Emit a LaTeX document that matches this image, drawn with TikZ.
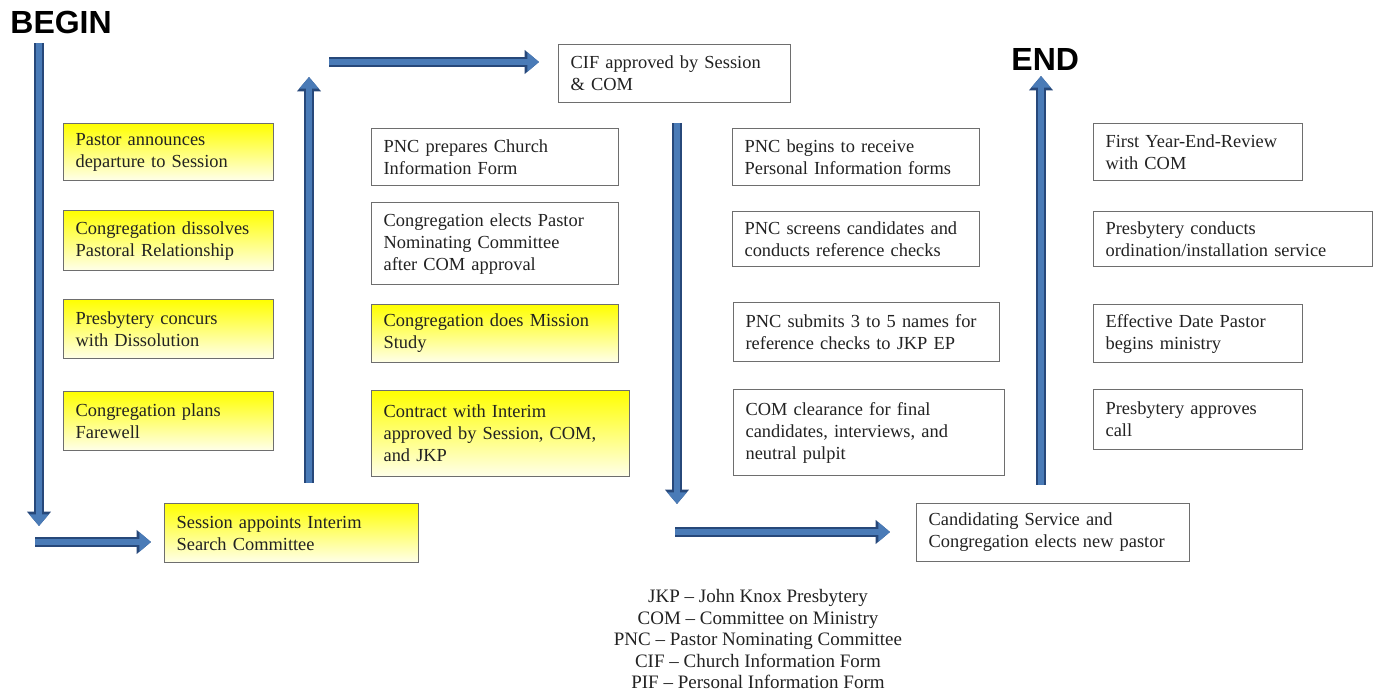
\documentclass[tikz,border=0pt]{standalone}
\usepackage{fontspec}
\setmainfont{Liberation Serif}
\newfontfamily\headfont{Liberation Sans}
\usepackage{tikz}
\usetikzlibrary{arrows.meta}

\definecolor{flowblue}{HTML}{4A7BB7}
\definecolor{flowedge}{HTML}{27487A}
\definecolor{boxgray}{HTML}{6E6E6E}
\definecolor{inkgray}{HTML}{222222}

\tikzset{
  note/.style={draw=boxgray, line width=0.6pt, anchor=north west, align=left,
    inner xsep=6pt, inner ysep=3pt, text=inkgray,
    font=\fontsize{9.2}{11}\selectfont},
  ynote/.style={note, top color=yellow, bottom color=yellow!8},
  wnote/.style={note, fill=white},
  flow/.style={line width=3.2pt, draw=flowblue, -{Triangle[width=9.4pt,length=5.8pt]},
    preaction={draw=flowedge, line width=4.8pt, -{Triangle[width=11.6pt,length=7.2pt]}}},
  headline/.style={anchor=north west, inner sep=0pt, font=\headfont\bfseries\fontsize{16}{18}\selectfont}
}

\begin{document}
\begin{tikzpicture}
  \useasboundingbox (0pt, 0pt) rectangle (688.5pt, -347pt);
  % start and end labels
  \draw (5.0pt, -5.5pt)node[headline](begin){BEGIN};
  \draw (505.5pt, -24.0pt)node[headline](end){END};
  % first column
  \draw (31.5pt, -61.5pt)node[ynote, text width=93pt, minimum height=28.5pt](1){Pastor announces\\departure to Session};
  \draw (31.5pt, -105.0pt)node[ynote, text width=93pt, minimum height=30pt](2){Congregation dissolves\\Pastoral Relationship};
  \draw (31.5pt, -149.5pt)node[ynote, text width=93pt, minimum height=29.5pt](3){Presbytery concurs\\with Dissolution};
  \draw (31.5pt, -195.5pt)node[ynote, text width=93pt, minimum height=29.5pt](4){Congregation plans\\Farewell};
  \draw (82.0pt, -251.5pt)node[ynote, text width=115pt, minimum height=29.5pt](5){Session appoints Interim\\Search Committee};
  % second column
  \draw (185.5pt, -64.0pt)node[wnote, text width=111.5pt, minimum height=28.5pt](6){PNC prepares Church\\Information Form};
  \draw (185.5pt, -101.0pt)node[wnote, text width=111.5pt, minimum height=41pt](7){Congregation elects Pastor\\Nominating Committee\\after COM approval};
  \draw (185.5pt, -152.0pt)node[ynote, text width=111.5pt, minimum height=29pt](8){Congregation does Mission\\Study};
  \draw (185.5pt, -195.0pt)node[ynote, text width=117pt, minimum height=43pt](9){Contract with Interim\\approved by Session, COM,\\and JKP};
  \draw (279.0pt, -22.0pt)node[wnote, text width=104pt, minimum height=29pt](10){CIF approved by Session\\\& COM};
  % third column
  \draw (366.0pt, -64.0pt)node[wnote, text width=111.5pt, minimum height=28.5pt](11){PNC begins to receive\\Personal Information forms};
  \draw (366.0pt, -105.5pt)node[wnote, text width=111.5pt, minimum height=27.5pt](12){PNC screens candidates and\\conducts reference checks};
  \draw (366.5pt, -151.0pt)node[wnote, text width=121pt, minimum height=29.5pt](13){PNC submits 3 to 5 names for\\reference checks to JKP EP};
  \draw (366.5pt, -194.5pt)node[wnote, text width=123.5pt, minimum height=43pt](14){COM clearance for final\\candidates, interviews, and\\neutral pulpit};
  \draw (458.0pt, -251.5pt)node[wnote, text width=124.5pt, minimum height=29pt](15){Candidating Service and\\Congregation elects new pastor};
  % fourth column
  \draw (546.5pt, -61.5pt)node[wnote, text width=92.5pt, minimum height=28.5pt](16){First Year-End-Review\\with COM};
  \draw (546.5pt, -105.5pt)node[wnote, text width=127.5pt, minimum height=27.5pt](17){Presbytery conducts\\ordination/installation service};
  \draw (546.5pt, -152.0pt)node[wnote, text width=92.5pt, minimum height=29pt](18){Effective Date Pastor\\begins ministry};
  \draw (546.5pt, -194.5pt)node[wnote, text width=92.5pt, minimum height=30pt](19){Presbytery approves\\call};
  % legend
  \draw (379.0pt, -294.5pt)node[anchor=north, align=center, inner sep=0pt, text=inkgray,
    font=\fontsize{9.5}{10.8}\selectfont](legend){JKP -- John Knox Presbytery\\COM -- Committee on Ministry\\PNC -- Pastor Nominating Committee\\CIF -- Church Information Form\\PIF -- Personal Information Form};
  % arrow ends
  \coordinate (s1) at (19.5pt, -21.5pt);   \coordinate (e1) at (19.5pt, -263.0pt);
  \coordinate (s2) at (17.5pt, -271.0pt);  \coordinate (e2) at (75.5pt, -271.0pt);
  \coordinate (s3) at (154.5pt, -241.5pt); \coordinate (e3) at (154.5pt, -38.5pt);
  \coordinate (s4) at (164.5pt, -31.0pt);  \coordinate (e4) at (269.5pt, -31.0pt);
  \coordinate (s5) at (338.5pt, -61.5pt);  \coordinate (e5) at (338.5pt, -252.0pt);
  \coordinate (s6) at (337.5pt, -266.0pt); \coordinate (e6) at (445.0pt, -266.0pt);
  \coordinate (s7) at (520.5pt, -242.5pt); \coordinate (e7) at (520.5pt, -38.0pt);
  \draw[flow] (s1) -- (e1);
  \draw[flow] (s2) -- (e2);
  \draw[flow] (s3) -- (e3);
  \draw[flow] (s4) -- (e4);
  \draw[flow] (s5) -- (e5);
  \draw[flow] (s6) -- (e6);
  \draw[flow] (s7) -- (e7);
\end{tikzpicture}
\end{document}
